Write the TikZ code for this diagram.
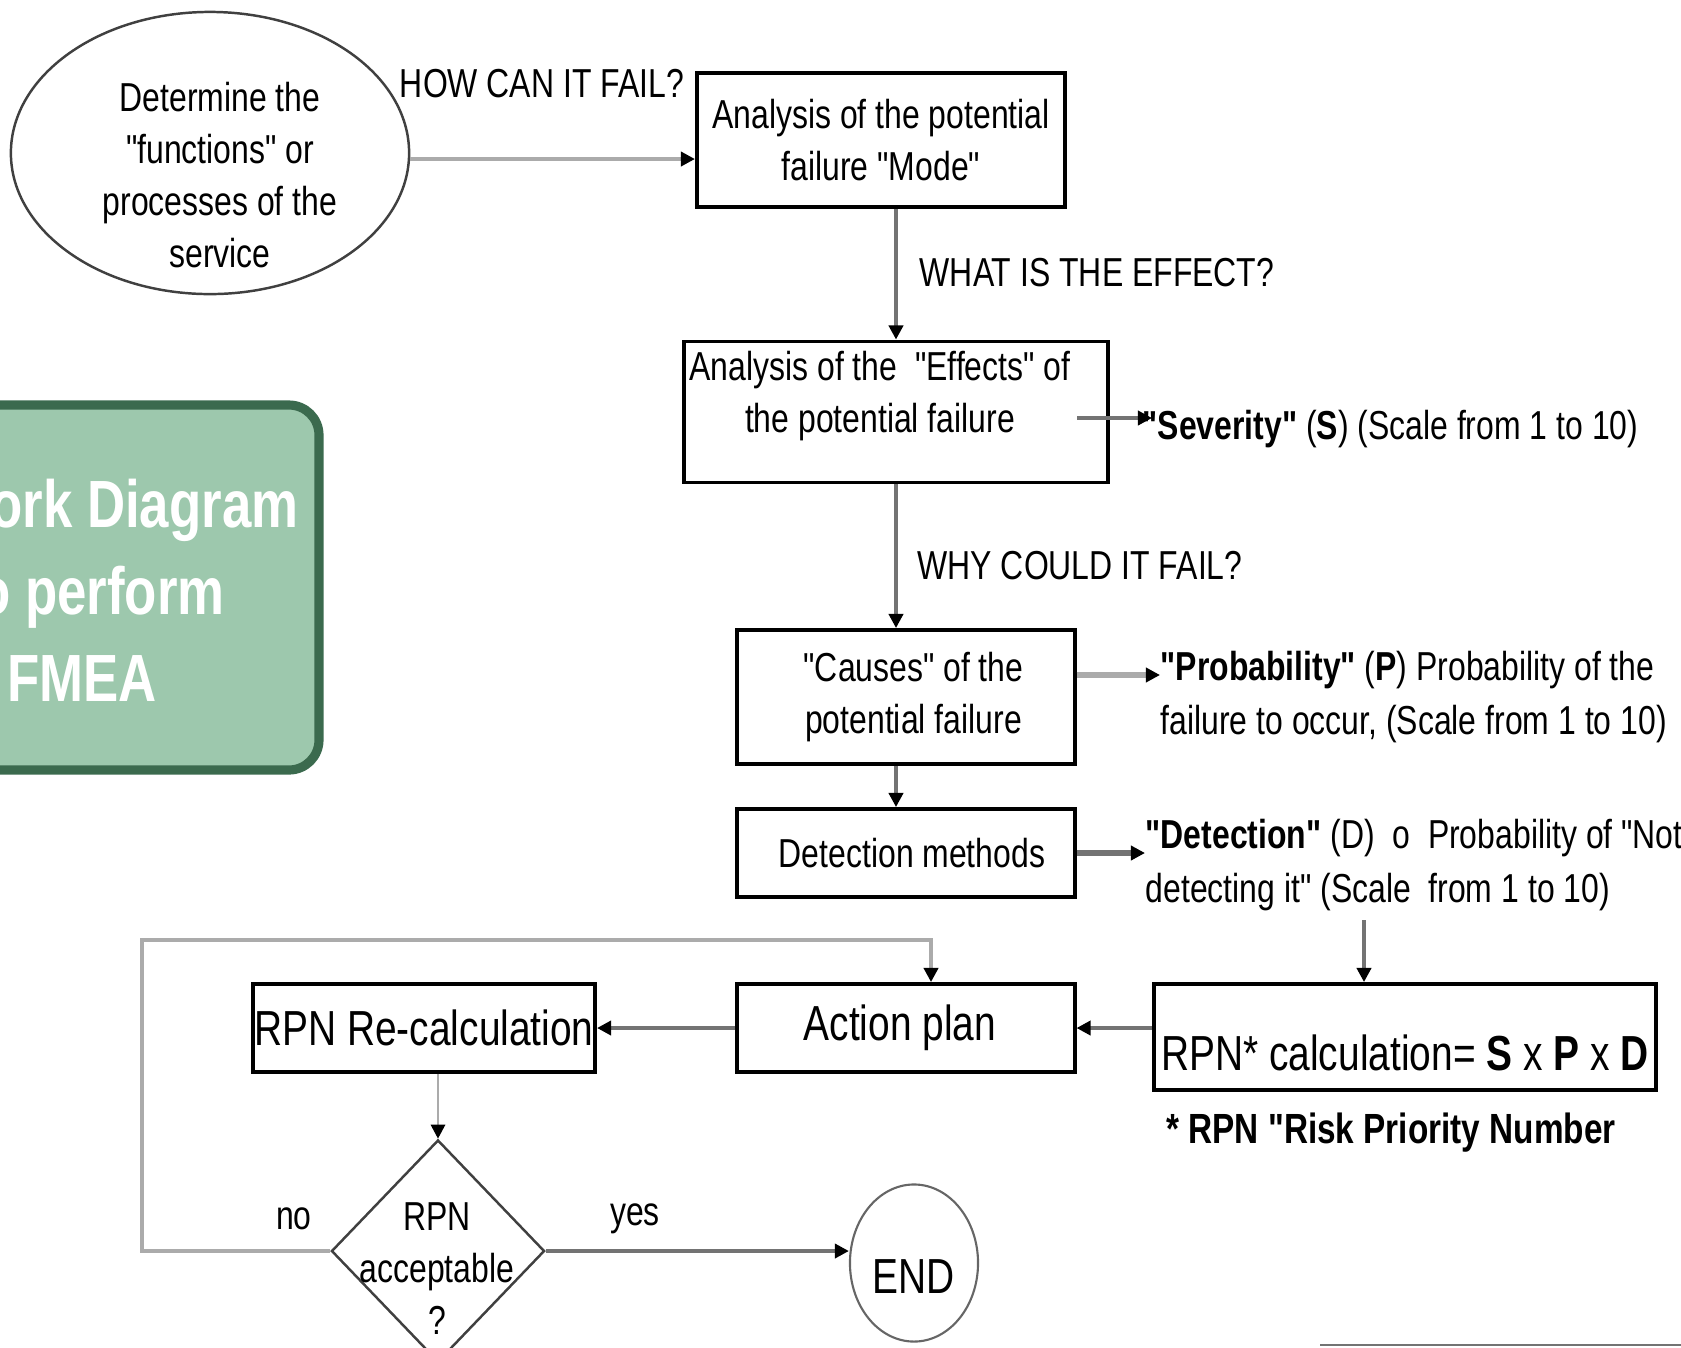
\documentclass[tikz,border=0pt]{standalone}
\usepackage{fontspec}
\setmainfont{Liberation Sans}[FakeStretch=0.79, Ligatures=TeXOff]
\usetikzlibrary{arrows.meta,shapes.geometric}
\definecolor{boxgreen}{HTML}{9DC8AD}
\definecolor{darkgreen}{HTML}{3B6A4E}
\newcommand\bodytext{\fontsize{11.5}{14.8}\selectfont}
\newcommand\notetext{\fontsize{11.5}{15.6}\selectfont}
\newcommand\bigtext{\fontsize{14}{17}\selectfont}

\begin{document}
\begin{tikzpicture}[x=0.01cm,y=-0.01cm,
  stepbox/.style={draw, line width=1.1pt, minimum width=3.37cm, minimum height=0.88cm, align=center, font=\bodytext, inner sep=0pt},
  flow/.style={draw=black!55, line width=1.1pt, -{Triangle[length=4pt,width=4pt,color=black]}},
  flowlight/.style={flow, draw=black!33},
  note/.style={font=\notetext, inner sep=0pt, align=left, anchor=west}]
\useasboundingbox (0,0) rectangle (1681,1347);

\draw[fill=boxgreen, draw=darkgreen, line width=2.6pt, rounded corners=0.3cm] (-80,405) rectangle (319,770);
\node[anchor=west, align=left, text=white, font=\fontsize{19}{24.7}\selectfont\bfseries] (title) at (-22,590) {ork Diagram\\\hspace*{-0.12cm}o perform\\\hspace*{0.17cm}FMEA};

\node[ellipse, draw=black!75, line width=0.7pt, minimum width=3.98cm, minimum height=2.82cm] (func) at (210,153) {};
\node[align=center, font=\bodytext] (functext) at (220,175) {Determine the\\"functions" or\\processes of the\\service};

\node[stepbox, minimum width=3.68cm, minimum height=1.34cm] (mode) at (881,140) {Analysis of the potential\\failure "Mode"};
\node[stepbox, minimum width=4.23cm, minimum height=1.41cm] (effects) at (896,412) {Analysis of the~ "Effects" of\hspace*{0.32cm}\\the potential failure\hspace*{0.32cm}\rule[-0.40cm]{0pt}{0pt}};
\node[stepbox, minimum height=1.34cm] (causes) at (906,697) {\hspace*{0.15cm}"Causes" of the\\\hspace*{0.15cm}potential failure};
\node[stepbox] (detect) at (906,853) {\hspace*{0.12cm}Detection methods};
\node[stepbox, minimum width=5.01cm, minimum height=1.06cm, font=\bigtext] (rpn) at (1405,1037) {\rule{0pt}{0.68cm}RPN* calculation= \textbf{S} x \textbf{P} x \textbf{D}};
\node[stepbox, font=\bigtext] (action) at (906,1028) {Action plan\hspace*{0.12cm}};
\node[stepbox, minimum width=3.42cm, font=\bigtext] (recalc) at (424,1028) {RPN Re-calculation};
\node[diamond, draw=black!75, line width=0.7pt, minimum width=2.13cm, minimum height=2.22cm, inner sep=0pt] (accept) at (438,1251) {};
\node[align=center, font=\bodytext] (accepttext) at (437,1269) {RPN\\acceptable\\?};
\node[ellipse, draw=black!60, line width=0.6pt, minimum width=1.28cm, minimum height=1.57cm, inner sep=0pt, font=\bigtext] (finish) at (914,1263) {\rule{0pt}{0.61cm}END};

\node[font=\bodytext] (how) at (542,84) {HOW CAN IT FAIL?};
\node[font=\bodytext] (what) at (1097,273) {WHAT IS THE EFFECT?};
\node[font=\bodytext] (why) at (1080,566) {WHY COULD IT FAIL?};
\node[note] (sev) at (1142,429) {\textbf{"Severity"} (\textbf{S}) (Scale from 1 to 10)};
\node[note] (prob) at (1160,697) {\textbf{"Probability"} (\textbf{P}) Probability of the\\failure to occur, (Scale from 1 to 10)};
\node[note] (det) at (1145,865) {\textbf{"Detection"} (D)~ o~ Probability of "Not\\detecting it" (Scale~ from 1 to 10)};
\node[font=\fontsize{12}{15}\selectfont\bfseries] (rpnnote) at (1391,1133) {* RPN "Risk Priority Number};
\node[font=\bodytext] (no) at (294,1219) {no};
\node[font=\bodytext] (yes) at (635,1219) {yes};

\coordinate (sevstart) at (1077,418);
\coordinate (detdown) at (1364,920);
\coordinate (loop) at (142,940);

\draw[flowlight] ([yshift=-0.06cm]func.east) -- ([yshift=-0.06cm]func.east -| mode.west);
\draw[flow] (effects.north |- mode.south) -- (effects.north);
\draw[flow] (effects.south) -- (effects.south |- causes.north);
\draw[flow] (effects.south |- causes.south) -- (effects.south |- detect.north);
\draw[flow] (sevstart) -- ([xshift=0.1cm]sevstart -| sev.west);
\draw[flowlight, line width=1.6pt] ([yshift=0.22cm]causes.east) -- ([yshift=0.22cm]causes.east -| prob.west);
\draw[flow, line width=1.6pt] (detect.east) -- (detect.east -| det.west);
\draw[flow] (detdown) -- (detdown |- rpn.north);
\draw[flow] (rpn.west |- action.east) -- (action.east);
\draw[flow] (action.west) -- (recalc.east);
\draw[flowlight, line width=0.8pt] (recalc.south -| accept.north) -- (accept.north);
\draw[flow] (accept.east) -- (accept.east -| finish.west);
\draw[flowlight] (accept.west) -| (loop) -| ([xshift=0.25cm]action.north);
\draw[black!55, line width=0.6pt] (1320,1345) -- (1681,1345);
\end{tikzpicture}
\end{document}
